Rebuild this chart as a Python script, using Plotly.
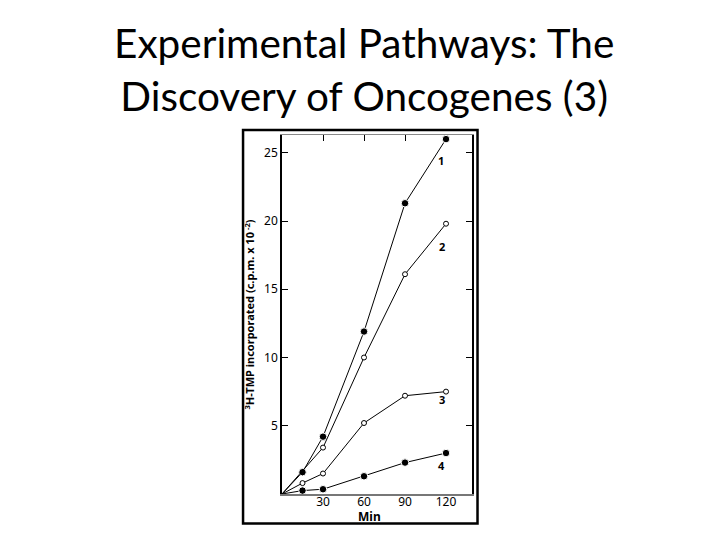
import plotly.graph_objects as go

minutes = [0, 15, 30, 60, 90, 120]
minutes_2 = [0, 30, 60, 90, 120]

curve_1 = [0, 1.6, 4.2, 11.9, 21.3, 26.0]
curve_2 = [0, 3.4, 10.0, 16.1, 19.8]
curve_3 = [0, 0.8, 1.5, 5.2, 7.2, 7.5]
curve_4 = [0, 0.25, 0.35, 1.3, 2.3, 3.0]

curve_names = ["1", "2", "3", "4"]
label_x = [116, 117, 117, 117]
label_y = [24.4, 18.1, 6.9, 2.1]

y_ticks = [5, 10, 15, 20, 25]
x_ticks = [30, 60, 90, 120]

FONT = "Noto Sans"
filled = dict(symbol="circle", size=7.5, color="black", line=dict(color="white", width=1))
hollow = dict(symbol="circle", size=5, color="white", line=dict(color="black", width=1))

fig = go.Figure()
series = [
    (minutes, curve_1, filled),
    (minutes_2, curve_2, hollow),
    (minutes, curve_3, hollow),
    (minutes, curve_4, filled),
]
for xs, ys, mk in series:
    fig.add_trace(go.Scatter(
        x=xs, y=ys, mode="lines", line=dict(color="black", width=1),
        showlegend=False
    ))
    fig.add_trace(go.Scatter(
        x=xs[1:], y=ys[1:], mode="markers", marker=mk, showlegend=False, hoverinfo="skip"
    ))

for name, lx, ly in zip(curve_names, label_x, label_y):
    fig.add_annotation(x=lx, y=ly, text=f"<b>{name}</b>", showarrow=False,
                       font=dict(family=FONT, size=11, color="black"))

fig.add_annotation(x=64, y=-0.063, yref="paper", yanchor="middle", text="<b>Min</b>",
                   showarrow=False, font=dict(family=FONT, size=12, color="black"))

fig.add_annotation(
    x=0.43, y=1.183, xref="paper", yref="paper",
    xanchor="center", yanchor="middle",
    text="Experimental Pathways: The<br>Discovery of Oncogenes (3)",
    showarrow=False, font=dict(family="Lato", size=40.5, color="black")
)

# black frame around the figure panel
fig.add_shape(type="rect", xref="paper", yref="paper",
              x0=-0.205, x1=1.029, y0=-0.082, y1=1.014,
              line=dict(color="black", width=2.5))

fig.update_xaxes(
    range=[0, 139], tickvals=x_ticks, ticks="", showline=True,
    linecolor="#777", linewidth=2, mirror=False, showgrid=False, zeroline=False,
    tickfont=dict(family=FONT, size=12, color="black"), tickprefix="<b>", ticksuffix="</b>",
    ticklabelstandoff=-4
)
fig.update_yaxes(
    range=[0, 26.3], tickvals=y_ticks, ticks="inside", ticklen=6, tickcolor="black",
    showline=True, linecolor="black", linewidth=1.5, mirror="ticks",
    showgrid=False, zeroline=False,
    tickfont=dict(family=FONT, size=12, color="black"), tickprefix="<b>", ticksuffix="</b>",
    title=dict(text="<b><sup>3</sup>H-TMP incorporated (c.p.m. x 10<sup> -2</sup>)</b>",
               font=dict(family=FONT, size=11, color="black"), standoff=7)
)

fig.update_layout(
    width=720, height=540,
    margin=dict(l=274, r=256, t=127, b=54),
    paper_bgcolor="white", plot_bgcolor="white",
    xaxis2=dict(overlaying="x", side="top", range=[0, 139], tickvals=x_ticks[:3],
                ticks="inside", ticklen=6, tickcolor="black", showticklabels=False,
                showline=True, linecolor="#888", linewidth=1, showgrid=False, zeroline=False),
)
fig.add_trace(go.Scatter(x=[0], y=[0], xaxis="x2", mode="markers",
                         marker=dict(opacity=0), showlegend=False, hoverinfo="skip"))

fig.write_html("out.html")
